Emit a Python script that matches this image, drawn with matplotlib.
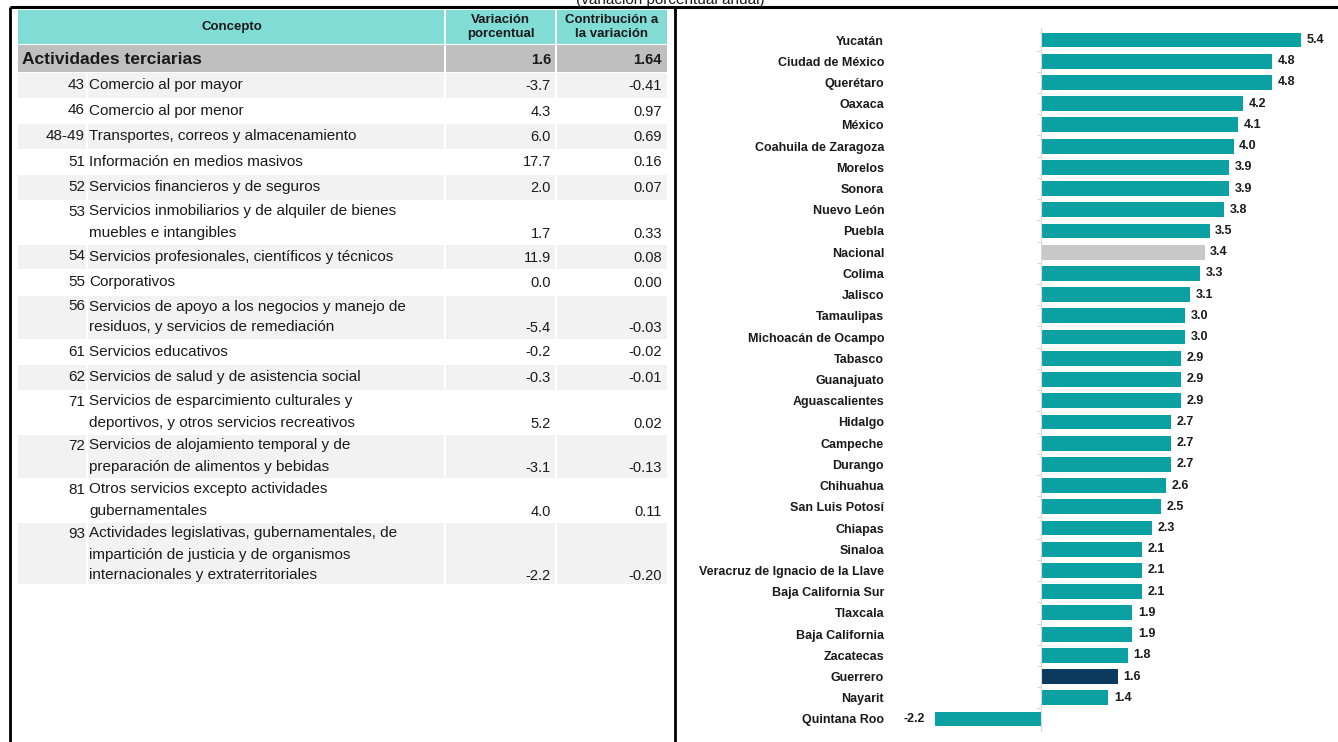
import numpy as np
import matplotlib.pyplot as plt
from matplotlib.patches import Rectangle

plt.rcParams['font.family'] = ['Liberation Sans Narrow', 'Liberation Sans', 'DejaVu Sans']

# tabla de actividades terciarias
codigos = ['43', '46', '48-49', '51', '52', '53', '54', '55', '56', '61', '62', '71', '72', '81', '93']
conceptos = [
    'Comercio al por mayor',
    'Comercio al por menor',
    'Transportes, correos y almacenamiento',
    'Información en medios masivos',
    'Servicios financieros y de seguros',
    'Servicios inmobiliarios y de alquiler de bienes\nmuebles e intangibles',
    'Servicios profesionales, científicos y técnicos',
    'Corporativos',
    'Servicios de apoyo a los negocios y manejo de\nresiduos, y servicios de remediación',
    'Servicios educativos',
    'Servicios de salud y de asistencia social',
    'Servicios de esparcimiento culturales y\ndeportivos, y otros servicios recreativos',
    'Servicios de alojamiento temporal y de\npreparación de alimentos y bebidas',
    'Otros servicios excepto actividades\ngubernamentales',
    'Actividades legislativas, gubernamentales, de\nimpartición de justicia y de organismos\ninternacionales y extraterritoriales',
]
variacion = [-3.7, 4.3, 6.0, 17.7, 2.0, 1.7, 11.9, 0.0, -5.4, -0.2, -0.3, 5.2, -3.1, 4.0, -2.2]
contribucion = [-0.41, 0.97, 0.69, 0.16, 0.07, 0.33, 0.08, 0.00, -0.03, -0.02, -0.01, 0.02, -0.13, 0.11, -0.20]
total_nombre = 'Actividades terciarias'
total_var = 1.6
total_contrib = 1.64

# barras por entidad
estados = ['Yucatán', 'Ciudad de México', 'Querétaro', 'Oaxaca', 'México', 'Coahuila de Zaragoza',
           'Morelos', 'Sonora', 'Nuevo León', 'Puebla', 'Nacional', 'Colima', 'Jalisco', 'Tamaulipas',
           'Michoacán de Ocampo', 'Tabasco', 'Guanajuato', 'Aguascalientes', 'Hidalgo', 'Campeche',
           'Durango', 'Chihuahua', 'San Luis Potosí', 'Chiapas', 'Sinaloa',
           'Veracruz de Ignacio de la Llave', 'Baja California Sur', 'Tlaxcala', 'Baja California',
           'Zacatecas', 'Guerrero', 'Nayarit', 'Quintana Roo']
valores = [5.4, 4.8, 4.8, 4.2, 4.1, 4.0, 3.9, 3.9, 3.8, 3.5, 3.4, 3.3, 3.1, 3.0, 3.0, 2.9, 2.9, 2.9,
           2.7, 2.7, 2.7, 2.6, 2.5, 2.3, 2.1, 2.1, 2.1, 1.9, 1.9, 1.8, 1.6, 1.4, -2.2]

W, H = 1338, 742
fig = plt.figure(figsize=(W / 100, H / 100), dpi=100)

# capa en pixeles para tabla y marcos
tb = fig.add_axes([0, 0, 1, 1])
tb.set_xlim(0, W)
tb.set_ylim(H, 0)
tb.axis('off')

txt = '#1a1a1a'
turq = '#80dcd5'
gris = '#bfbfbf'
claro = '#f2f2f2'

# columnas
x0, xcod, xc1, xc2, x3 = 18, 87, 445, 556, 667

def celda(xa, xb, ya, yb, color):
    tb.add_patch(Rectangle((xa, ya), xb - xa, yb - ya, facecolor=color, edgecolor='none'))

# encabezado
celda(x0, xc1 - 1, 10, 44, turq)
celda(xc1 + 1, xc2 - 1, 10, 44, turq)
celda(xc2 + 1, x3, 10, 44, turq)
tb.text((x0 + xc1) / 2, 27, 'Concepto', ha='center', va='center', fontsize=9.5, fontweight='bold', color=txt)
tb.text((xc1 + xc2) / 2, 27, 'Variación\nporcentual', ha='center', va='center', fontsize=9.5,
        fontweight='bold', color=txt, linespacing=1.25)
tb.text((xc2 + x3) / 2, 27, 'Contribución a\nla variación', ha='center', va='center', fontsize=9.5,
        fontweight='bold', color=txt, linespacing=1.25)

# fila total
celda(x0, xc1 - 1, 45, 72, gris)
celda(xc1 + 1, xc2 - 1, 45, 72, gris)
celda(xc2 + 1, x3, 45, 72, gris)
tb.text(22, 59, total_nombre, ha='left', va='center', fontsize=12.5, fontweight='bold', color=txt)
tb.text(551, 60, f'{total_var:.1f}', ha='right', va='center', fontsize=10.5, fontweight='bold', color=txt)
tb.text(662, 60, f'{total_contrib:.2f}', ha='right', va='center', fontsize=10.5, fontweight='bold', color=txt)

# filas de detalle
y = 73
for i, (cod, nom, v, c) in enumerate(zip(codigos, conceptos, variacion, contribucion)):
    lineas = nom.split('\n')
    n = len(lineas)
    alto = 7 + 18.5 * n
    fondo = claro if i % 2 == 0 else 'white'
    celda(x0, xcod - 1, y, y + alto - 1, fondo)
    celda(xcod + 1, xc1 - 1, y, y + alto - 1, fondo)
    celda(xc1 + 1, xc2 - 1, y, y + alto - 1, fondo)
    celda(xc2 + 1, x3, y, y + alto - 1, fondo)
    yc = y + 12 if n == 1 else y + 11
    tb.text(85, yc, cod, ha='right', va='center', fontsize=11, color=txt)
    for k, ln in enumerate(lineas):
        tb.text(89, yc + 21 * k, ln, ha='left', va='center', fontsize=11, color=txt)
    yv = yc + 21 * (n - 1) + 1
    tb.text(551, yv, f'{v:.1f}', ha='right', va='center', fontsize=10.5, color=txt)
    tb.text(662, yv, f'{c:.2f}', ha='right', va='center', fontsize=10.5, color=txt)
    y += alto

# marcos negros
tb.plot([10, W], [7, 7], color='black', lw=2.2, solid_capstyle='butt')
tb.plot([10, 10], [7, H], color='black', lw=2, solid_capstyle='butt')
tb.plot([675, 675], [7, H], color='black', lw=2, solid_capstyle='butt')
tb.text(670, 4, '(variación porcentual anual)', ha='center', va='baseline', fontsize=11, color=txt,
        clip_on=False)

# grafica de barras
ax = fig.add_axes([900 / W, (H - 731) / H, 430 / W, 703 / H])
pos = np.arange(len(estados))
colores = []
for e in estados:
    if e == 'Nacional':
        colores.append('#c8c8c8')
    elif e == 'Guerrero':
        colores.append('#0a3a5e')
    else:
        colores.append('#0ba1a2')
ax.barh(pos, valores, height=0.7, color=colores)
ax.set_xlim(-(1041 - 900) / 48.15, (1330 - 1041) / 48.15)
ax.set_ylim(32 + 12 / 21.2, -12 / 21.2)

for sp in ['top', 'right', 'bottom']:
    ax.spines[sp].set_visible(False)
ax.spines['left'].set_position(('data', 0))
ax.spines['left'].set_color('#d9d9d9')
ax.spines['left'].set_linewidth(0.8)
ax.set_xticks([])
ax.set_yticks(pos)
ax.set_yticklabels(estados, fontsize=9, fontweight='bold', color=txt)
ax.tick_params(axis='y', which='major', length=0, pad=113)
ax.set_yticks(pos[:-1] + 0.5, minor=True)
ax.tick_params(axis='y', which='minor', length=3, color='#d9d9d9', width=0.8)

for p, v in zip(pos, valores):
    if v >= 0:
        ax.annotate(f'{v:.1f}', (v, p), xytext=(4, 0), textcoords='offset points', ha='left',
                    va='center', fontsize=9, fontweight='bold', color=txt)
    else:
        ax.annotate(f'{v:.1f}', (v, p), xytext=(-7, 0), textcoords='offset points', ha='right',
                    va='center', fontsize=9, fontweight='bold', color=txt)

fig.savefig('out.png', dpi=100)
